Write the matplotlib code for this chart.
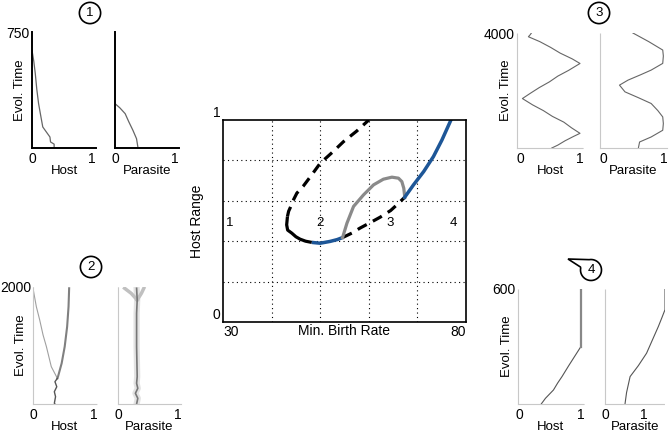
import matplotlib

matplotlib.use("Agg")
import matplotlib.pyplot as plt  # noqa: E402
from matplotlib.path import Path  # noqa: E402
from matplotlib.patches import PathPatch  # noqa: E402
import numpy as np  # noqa: E402

plt.rcParams["font.family"] = ["Liberation Sans", "DejaVu Sans"]
plt.rcParams["font.size"] = 9.5

# ---- central bifurcation diagram (min. birth rate vs host range) ----
upper_dash_x = [43.26, 43.5, 43.8, 44.4, 45.2, 46.5, 48.0, 50.0, 52.5, 54.8, 57.5, 60.0]
upper_dash_y = [0.522, 0.548, 0.564, 0.600, 0.638, 0.672, 0.720, 0.786, 0.840, 0.893, 0.945, 1.0]
black_x = [43.26, 43.1, 43.3, 44.15, 45.0, 45.87, 47.0, 48.27]
black_y = [0.522, 0.481, 0.455, 0.440, 0.422, 0.410, 0.400, 0.394]
blue_low_x = [48.27, 50.0, 52.05, 53.5, 54.6]
blue_low_y = [0.394, 0.390, 0.399, 0.408, 0.418]
lower_dash_x = [54.6, 56.5, 58.2, 60.3, 62.35, 64.5, 66.0, 67.4]
lower_dash_y = [0.418, 0.440, 0.465, 0.492, 0.519, 0.552, 0.585, 0.618]
gray_x = [54.6, 55.5, 56.86, 58.9, 60.98, 63.0, 64.75, 66.1, 66.8, 67.2, 67.4]
gray_y = [0.418, 0.489, 0.572, 0.629, 0.679, 0.707, 0.717, 0.712, 0.695, 0.662, 0.618]
blue_hi_x = [67.4, 69.2, 71.3, 73.3, 75.05, 76.9]
blue_hi_y = [0.618, 0.679, 0.745, 0.819, 0.901, 1.0]
region_labels = ["1", "2", "3", "4"]
region_x = [31.4, 50.0, 64.4, 77.5]
region_y = [0.49, 0.49, 0.49, 0.49]

# ---- small panels: (host fraction, time) and (parasite fraction, time) ----
p1_host_t = [0, 25, 39, 71, 136, 200, 287, 380, 481, 560, 632]
p1_host_x = [0.37, 0.37, 0.31, 0.30, 0.18, 0.15, 0.11, 0.08, 0.055, 0.03, 0.0]
p1_par_t = [0, 60, 114, 170, 222, 260, 287]
p1_par_x = [0.385, 0.36, 0.30, 0.23, 0.17, 0.08, 0.0]

p2_trunk_t = [0, 12, 125, 210, 295, 381, 439]
p2_trunk_x = [0.36, 0.35, 0.37, 0.35, 0.39, 0.36, 0.40]
p2_left_t = [439, 638, 980, 1180, 1436, 1663, 1978]
p2_left_x = [0.40, 0.30, 0.22, 0.165, 0.11, 0.055, 0.0]
p2_right_t = [439, 467, 695, 980, 1322, 1663, 1978]
p2_right_x = [0.40, 0.41, 0.47, 0.52, 0.56, 0.583, 0.593]
p2_par_t = [0, 97, 183, 268, 354, 467, 980, 1550, 1778, 1978]
p2_par_x = [0.31, 0.33, 0.29, 0.33, 0.31, 0.32, 0.31, 0.31, 0.32, 0.31]
p2_par_l_t = [1778, 1892, 1978]
p2_par_l_x = [0.32, 0.22, 0.11]
p2_par_r_t = [1778, 1892, 1978]
p2_par_r_x = [0.32, 0.39, 0.43]

p3_host_t = [0, 100, 250, 400, 510, 700, 900, 1100, 1300, 1500, 1720, 1900, 2100,
             2300, 2500, 2700, 2940, 3100, 3300, 3500, 3700, 3870, 3940, 4000]
p3_host_x = [0.53, 0.63, 0.75, 0.89, 1.0, 0.86, 0.73, 0.54, 0.39, 0.21, 0.04, 0.17, 0.32,
             0.49, 0.63, 0.81, 1.0, 0.87, 0.67, 0.51, 0.33, 0.14, 0.17, 0.19]
p3_par_t = [0, 209, 384, 617, 850, 1081, 1300, 1548, 1750, 1953, 2187, 2361, 2550,
            2710, 2943, 3200, 3407, 3700, 4000]
p3_par_x = [0.58, 0.60, 0.79, 0.98, 0.99, 0.98, 0.90, 0.79, 0.58, 0.36, 0.27, 0.41, 0.62,
            0.79, 0.98, 0.99, 0.98, 0.75, 0.49]

p4_host_t = [0, 30, 73, 110, 143, 200, 250, 300, 450, 600]
p4_host_x = [0.35, 0.42, 0.55, 0.62, 0.69, 0.80, 0.90, 1.0, 1.0, 1.0]
p4_par_t = [0, 60, 143, 200, 265, 330, 404, 450, 492, 600]
p4_par_x = [0.51, 0.55, 0.64, 0.85, 1.06, 1.20, 1.36, 1.45, 1.53, 1.53]

W, H = 670, 433
BLUE = "#1d5697"
GRAY = "#8a8a8a"

fig = plt.figure(figsize=(W / 100, H / 100), dpi=100)
fig.patch.set_facecolor("white")


def px_axes(left, top, right, bottom):
    return fig.add_axes([left / W, 1 - bottom / H, (right - left) / W, (bottom - top) / H])


# ---- main axes ----
ax = px_axes(223, 120, 466, 322)
ax.plot(upper_dash_x, upper_dash_y, color="black", lw=2.3, ls=(0, (3.2, 2.2)))
ax.plot(lower_dash_x, lower_dash_y, color="black", lw=2.3, ls=(0, (3.2, 2.2)))
ax.plot(black_x, black_y, color="black", lw=2.3, solid_capstyle="butt")
ax.plot(blue_low_x, blue_low_y, color=BLUE, lw=2.5, solid_capstyle="butt")
ax.plot(gray_x, gray_y, color=GRAY, lw=2.3)
ax.plot(blue_hi_x, blue_hi_y, color=BLUE, lw=2.5)
for lab, lx, ly in zip(region_labels, region_x, region_y):
    ax.text(lx, ly, lab, ha="center", va="center", fontsize=9.5)
ax.set_xlim(30, 80)
ax.set_ylim(0, 1)
ax.set_xticks([30, 80])
ax.set_xticklabels(["30", "80"])
ax.set_yticks([0, 1])
ax.set_yticklabels(["0", "1"])
ax.set_xticks([40, 50, 60, 70], minor=True)
ax.set_yticks([0.2, 0.4, 0.6, 0.8], minor=True)
ax.grid(which="minor", color="black", ls=(0, (1, 3)), lw=0.8)
ax.tick_params(length=0, pad=2, labelsize=10, which="both")
xl = ax.get_xticklabels()
xl[0].set_ha("left")
xl[1].set_ha("right")
yl = ax.get_yticklabels()
yl[0].set_va("bottom")
yl[1].set_va("bottom")
ax.set_xlabel("Min. Birth Rate", fontsize=10)
ax.xaxis.set_label_coords(0.5, -0.01)
ax.set_ylabel("Host Range", fontsize=10, labelpad=6)
for s in ax.spines.values():
    s.set_linewidth(1.2)


# ---- small panels ----
def small_panel(box, xmax, tmax, solid, ylabel=True, xlabel="Host", xmin=0.0, lab_x=-0.1):
    a = px_axes(*box)
    a.set_xlim(xmin, xmax)
    a.set_ylim(0, tmax)
    a.set_xticks([0, 1])
    a.set_xticklabels(["0", "1"])
    if ylabel:
        a.set_yticks([tmax])
        a.set_yticklabels([str(tmax)])
        a.set_ylabel("Evol. Time")
        a.yaxis.set_label_coords(lab_x, 0.5)
    else:
        a.set_yticks([])
    a.set_xlabel(xlabel, labelpad=-1)
    a.tick_params(axis="x", length=0, pad=3, labelsize=10)
    a.tick_params(axis="y", length=0, pad=1.5, labelsize=10)
    a.spines["top"].set_visible(False)
    a.spines["right"].set_visible(False)
    for k in ("left", "bottom"):
        if solid:
            a.spines[k].set_linewidth(1.4)
            a.spines[k].set_color("black")
        else:
            a.spines[k].set_linewidth(0.8)
            a.spines[k].set_color("#c8c8c8")
            a.spines[k].set_linestyle((0, (1, 1)))
    a.patch.set_alpha(0)
    return a


# panel 1
a = small_panel((32, 32, 96, 148), 1.07, 750, True, lab_x=-0.1)
a.plot(p1_host_x, p1_host_t, color="#666666", lw=0.9)
a = small_panel((115, 32, 179, 148), 1.07, 750, True, ylabel=False, xlabel="Parasite")
a.plot(p1_par_x, p1_par_t, color="#666666", lw=0.9)

# panel 2
a = small_panel((33, 287, 97, 404), 1.05, 2000, False, lab_x=-0.09)
a.plot(p2_left_x, p2_left_t, color="#a0a0a0", lw=0.8)
a.plot(p2_right_x, p2_right_t, color="#808080", lw=1.5)
a.plot(p2_trunk_x, p2_trunk_t, color="#555555", lw=1.0)
a = small_panel((118, 287, 181, 404), 1.05, 2000, False, ylabel=False, xlabel="Parasite")
a.plot(p2_par_x, p2_par_t, color="#dddddd", lw=4.5, alpha=0.8)
a.plot(p2_par_l_x, p2_par_l_t, color="#c0c0c0", lw=2.5)
a.plot(p2_par_r_x, p2_par_r_t, color="#c0c0c0", lw=2.5)
a.plot(p2_par_x, p2_par_t, color="#777777", lw=1.2)

# panel 3
a = small_panel((517, 33, 583, 148), 1.05, 4000, False, xmin=-0.05, lab_x=-0.08)
a.plot(p3_host_x, p3_host_t, color="#666666", lw=0.8)
a = small_panel((600, 33, 667, 148), 1.05, 4000, False, ylabel=False, xlabel="Parasite", xmin=-0.05)
a.plot(p3_par_x, p3_par_t, color="#666666", lw=0.8)

# panel 4
a = small_panel((518, 289, 584, 404), 1.05, 600, False, xmin=-0.03, lab_x=-0.08)
a.plot(p4_host_x, p4_host_t, color="#555555", lw=0.8)
a.plot(p4_host_x[-3:], p4_host_t[-3:], color="#888888", lw=1.6)
a = small_panel((605, 289, 665, 404), 1.53, 600, False, ylabel=False, xlabel="Parasite")
a.plot(p4_par_x, p4_par_t, color="#555555", lw=0.8)

# ---- circled panel numbers ----
circ = dict(boxstyle="circle,pad=0.35", fc="white", ec="black", lw=1.2)
for lab, cx, cy in [("1", 90, 13), ("3", 599, 13), ("2", 91, 267)]:
    fig.text(cx / W, 1 - cy / H, lab, ha="center", va="center", fontsize=9.5, bbox=circ)

# speech bubble for 4 (pixel coordinates, origin bottom-left)
cxb, cyb, r = 591, H - 270, 10.5
theta = np.linspace(np.deg2rad(165), np.deg2rad(165 + 295), 40)
verts = [(cxb + r * np.cos(t), cyb + r * np.sin(t)) for t in theta]
verts = verts + [(568, H - 259), verts[0]]
codes = [Path.MOVETO] + [Path.LINETO] * (len(verts) - 1)
fig.patches.append(PathPatch(Path(verts, codes), fc="white", ec="black", lw=1.2,
                             transform=None, figure=fig))
fig.text(cxb / W, cyb / H, "4", ha="center", va="center", fontsize=9.5)

fig.savefig("out.png", dpi=100)
